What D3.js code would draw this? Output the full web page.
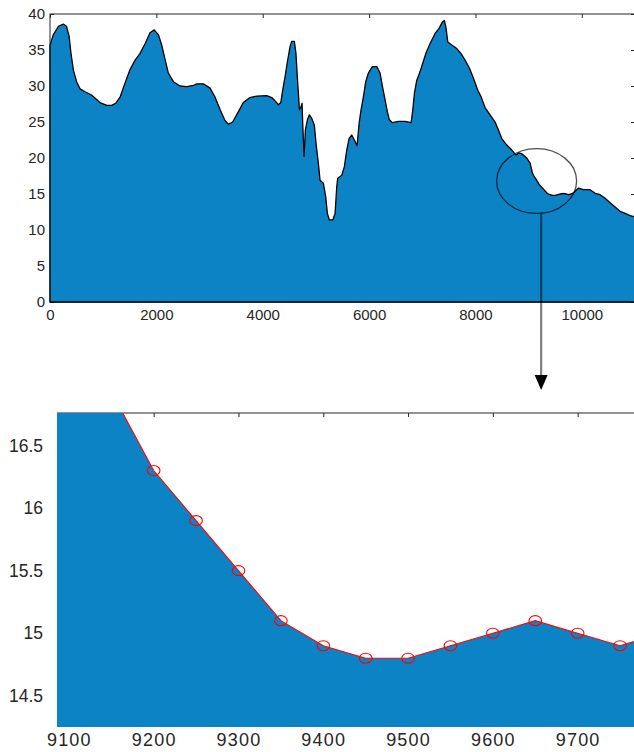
<!DOCTYPE html>
<html>
<head>
<meta charset="utf-8">
<script src="https://cdn.jsdelivr.net/npm/d3@7"></script>
<style>
  html, body { margin: 0; padding: 0; background: #fff; }
  svg { display: block; }
  text { font-family: "Liberation Sans", Arial, sans-serif; fill: #262626; }
</style>
</head>
<body>
<svg id="chart" width="634" height="752"></svg>
<script>
// ---------- data ----------
const topX = [
  0, 60, 160, 250, 310, 360, 395, 440, 500, 565,
  660, 780, 850, 940, 1070, 1160, 1235, 1320, 1410, 1505,
  1600, 1690, 1790, 1880, 1960, 2040, 2100, 2160, 2225, 2320,
  2445, 2570, 2700, 2760, 2885, 3010, 3100, 3200, 3290, 3355,
  3435, 3540, 3635, 3760, 3890, 4075, 4170, 4250, 4295, 4340,
  4375, 4420, 4465, 4515, 4545, 4595, 4625, 4650, 4675, 4690,
  4720, 4740, 4752, 4777, 4802, 4840, 4877, 4922, 4970, 5003,
  5046, 5078, 5140, 5185, 5216, 5253, 5317, 5360, 5392, 5410,
  5486, 5535, 5580, 5623, 5674, 5723, 5774, 5812, 5849, 5893,
  5937, 5987, 6062, 6144, 6206, 6257, 6300, 6344, 6382, 6438,
  6551, 6677, 6790, 6822, 6852, 6897, 6959, 7010, 7066, 7147,
  7241, 7316, 7379, 7416, 7448, 7480, 7555, 7649, 7730, 7805,
  7886, 7961, 8044, 8100, 8181, 8275, 8369, 8432, 8495, 8589,
  8683, 8764, 8808, 8871, 8965, 9028, 9071, 9100, 9150, 9200,
  9250, 9300, 9350, 9400, 9450, 9500, 9550, 9600, 9650, 9700,
  9750, 9800, 9850, 9936, 10030, 10156, 10250, 10344, 10438, 10532,
  10626, 10720, 10814, 10908, 10983, 11000
];
const topY = [
  35.6, 37.1, 38.3, 38.6, 38.3, 36.9, 34.5, 32.2, 30.6, 29.6,
  29.2, 28.75, 28.3, 27.7, 27.3, 27.3, 27.6, 28.5, 30.4, 32.3,
  33.6, 34.5, 35.9, 37.4, 37.8, 37.1, 35.7, 33.8, 31.8, 30.6,
  30.0, 29.9, 30.1, 30.3, 30.3, 29.7, 28.5, 26.7, 25.2, 24.7,
  25.0, 26.4, 27.7, 28.4, 28.6, 28.65, 28.4, 27.8, 27.4, 27.7,
  29.4, 31.3, 33.4, 35.5, 36.2, 36.2, 34.5, 31.3, 28.5, 26.7,
  27.1, 27.6, 24.8, 20.2, 23.9, 25.3, 26.0, 25.5, 24.6, 22.0,
  19.3, 16.9, 16.5, 14.6, 12.3, 11.4, 11.4, 12.3, 16.0, 17.2,
  17.6, 18.8, 21.1, 22.7, 23.2, 22.5, 21.7, 24.8, 26.7, 28.5,
  30.6, 31.8, 32.7, 32.7, 31.8, 29.7, 28.1, 26.4, 25.3, 24.9,
  25.1, 25.1, 24.9, 26.7, 29.0, 30.8, 32.0, 33.2, 34.5, 35.9,
  37.3, 38.0, 38.9, 39.1, 38.0, 36.1, 35.7, 35.2, 34.5, 33.6,
  32.5, 31.1, 29.4, 28.6, 27.0, 26.0, 25.0, 23.9, 22.7, 21.8,
  21.1, 20.4, 20.7, 20.6, 20.0, 19.3, 17.9, 17.5, 16.93, 16.3,
  15.9, 15.5, 15.1, 14.9, 14.8, 14.8, 14.9, 15.0, 15.1, 15.0,
  14.9, 15.0, 15.2, 15.8, 15.6, 15.6, 15.1, 14.9, 14.4, 13.8,
  13.2, 12.6, 12.3, 12.0, 11.85, 11.8
];
const zoomX = [9050, 9100, 9150, 9200, 9250, 9300, 9350, 9400, 9450, 9500, 9550, 9600, 9650, 9700, 9750, 9800];
const zoomY = [18.6, 17.5, 16.93, 16.3, 15.9, 15.5, 15.1, 14.9, 14.8, 14.8, 14.9, 15.0, 15.1, 15.0, 14.9, 15.0];

const topXTicks = [0, 2000, 4000, 6000, 8000, 10000];
const topYTicks = [0, 5, 10, 15, 20, 25, 30, 35, 40];
const zoomXTicks = [9100, 9200, 9300, 9400, 9500, 9600, 9700];
const zoomYTicks = [14.5, 15, 15.5, 16, 16.5];

// highlighted region on the overview (data units)
const focusCenterX = 9150, focusCenterY = 16.8, focusHalfW = 752, focusHalfH = 4.5;
const arrowX = 9235;

// ---------- layout ----------
const FILL = "#0B83C5";
const AXIS = "#262626";
const svg = d3.select("#chart");

const topData = topX.map((x, i) => ({ x, y: topY[i] }));
const zoomData = zoomX.map((x, i) => ({ x, y: zoomY[i] }));

// ===== top (overview) chart =====
const T = { left: 50, right: 635, top: 14, bottom: 302 };
const xT = d3.scaleLinear().domain([0, 11000]).range([T.left, T.right]);
const yT = d3.scaleLinear().domain([0, 40]).range([T.bottom, T.top]);

const gT = svg.append("g");
gT.append("rect").attr("x", T.left).attr("y", T.top)
  .attr("width", T.right - T.left).attr("height", T.bottom - T.top)
  .attr("fill", "none").attr("stroke", AXIS).attr("stroke-width", 1);

function styleAxis(g, fs) {
  g.select(".domain").remove();
  g.selectAll("line").attr("stroke", AXIS);
  g.selectAll("text").attr("font-size", fs).attr("fill", AXIS)
    .style("font-family", '"Liberation Sans", Arial, sans-serif');
}

gT.append("g").attr("transform", `translate(0,${T.bottom})`)
  .call(d3.axisBottom(xT).tickValues(topXTicks).tickFormat(d3.format("d")).tickSize(-4).tickPadding(7))
  .call(g => styleAxis(g, 15));
gT.append("g").attr("transform", `translate(0,${T.top})`)
  .call(d3.axisTop(xT).tickValues(topXTicks).tickFormat("").tickSize(-4))
  .call(g => styleAxis(g, 15));
gT.append("g").attr("transform", `translate(${T.left},0)`)
  .call(d3.axisLeft(yT).tickValues(topYTicks).tickFormat(d3.format("d")).tickSize(-4).tickPadding(5))
  .call(g => styleAxis(g, 15));
gT.append("g").attr("transform", `translate(${T.right},0)`)
  .call(d3.axisRight(yT).tickValues(topYTicks).tickFormat("").tickSize(-4))
  .call(g => styleAxis(g, 15));

const areaT = d3.area().x(d => xT(d.x)).y0(yT(0)).y1(d => yT(d.y));
gT.append("path").attr("d", areaT(topData))
  .attr("fill", FILL).attr("stroke", "#000").attr("stroke-width", 1.3)
  .attr("stroke-linejoin", "round");

// ===== bottom (zoomed) chart =====
const B = { left: 57, right: 645.5, top: 413, bottom: 727 };
const xB = d3.scaleLinear().domain([9086, 9780]).range([B.left, B.right]);
const yB = d3.scaleLinear().domain([14.25, 16.76]).range([B.bottom, B.top]);

const gB = svg.append("g");
svg.append("clipPath").attr("id", "clipB").append("rect")
  .attr("x", B.left).attr("y", B.top).attr("width", B.right - B.left).attr("height", B.bottom - B.top);

gB.append("line").attr("x1", B.left).attr("x2", B.right).attr("y1", B.top).attr("y2", B.top)
  .attr("stroke", AXIS).attr("stroke-width", 1);
gB.append("g").attr("transform", `translate(0,${B.top})`)
  .call(d3.axisTop(xB).tickValues(zoomXTicks).tickFormat("").tickSize(-4))
  .call(g => styleAxis(g, 18));
gB.append("g").attr("transform", `translate(0,${B.bottom})`)
  .call(d3.axisBottom(xB).tickValues(zoomXTicks).tickFormat(d3.format("d")).tickSize(-4).tickPadding(6))
  .call(g => { styleAxis(g, 18); g.selectAll("text").style("letter-spacing", "1.2px"); });
gB.append("g").attr("transform", `translate(${B.left},0)`)
  .call(d3.axisLeft(yB).tickValues(zoomYTicks).tickFormat(d => String(d)).tickSize(-4).tickPadding(14))
  .call(g => styleAxis(g, 17.5));

const plotB = gB.append("g").attr("clip-path", "url(#clipB)");
const areaB = d3.area().x(d => xB(d.x)).y0(B.bottom + 5).y1(d => yB(d.y));
plotB.append("path").attr("d", areaB(zoomData)).attr("fill", FILL);
plotB.append("path")
  .attr("d", d3.line().x(d => xB(d.x)).y(d => yB(d.y))(zoomData))
  .attr("fill", "none").attr("stroke", "#FF0000").attr("stroke-width", 1.1);
plotB.selectAll("ellipse.m").data(zoomData).join("ellipse")
  .attr("class", "m")
  .attr("cx", d => xB(d.x)).attr("cy", d => yB(d.y))
  .attr("rx", 6.3).attr("ry", 5)
  .attr("fill", "none").attr("stroke", "#FF0000").attr("stroke-width", 1.1);

// ===== annotation: ellipse + arrow =====
const ecx = xT(focusCenterX), ecy = yT(focusCenterY);
const erx = xT(focusCenterX + focusHalfW) - ecx;
const ery = yT(focusCenterY - focusHalfH) - ecy;
svg.append("ellipse").attr("cx", ecx).attr("cy", ecy).attr("rx", erx).attr("ry", ery)
  .attr("fill", "none").attr("stroke", "#000").attr("stroke-opacity", 0.7).attr("stroke-width", 1.3);

const ax = xT(arrowX);
const arrowTip = B.top - 23, headH = 15, headW = 6.5;
svg.append("line").attr("x1", ax).attr("x2", ax)
  .attr("y1", ecy + ery).attr("y2", arrowTip - headH + 1)
  .attr("stroke", "#000").attr("stroke-opacity", 0.5).attr("stroke-width", 2.2);
svg.append("path")
  .attr("d", `M${ax - headW},${arrowTip - headH} L${ax + headW},${arrowTip - headH} L${ax},${arrowTip} Z`)
  .attr("fill", "#000");
</script>
</body>
</html>
